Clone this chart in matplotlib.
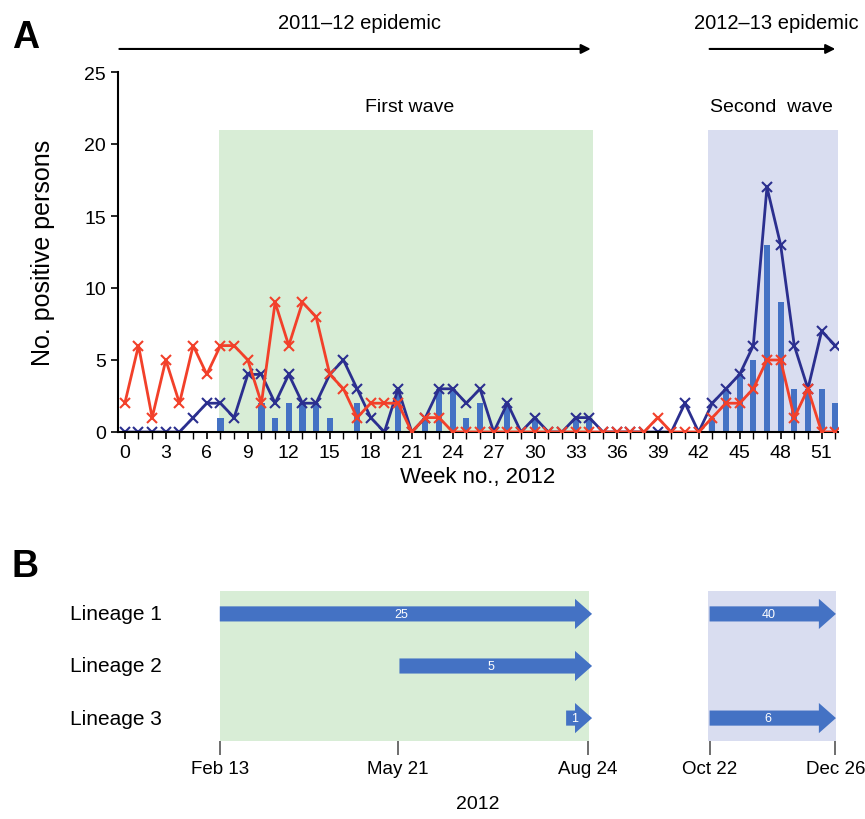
"""Weekly positive persons (panel A) and lineage timelines (panel B), 2012."""

import matplotlib

matplotlib.use("Agg")
import matplotlib.pyplot as plt
from matplotlib.patches import FancyArrow
import numpy as np

weeks = np.arange(0, 53)
total_pos = [0, 0, 0, 0, 0, 1, 2, 2, 1, 4, 4, 2, 4, 2, 2, 4, 5, 3, 1, 0,
             3, 0, 1, 3, 3, 2, 3, 0, 2, 0, 1, 0, 0, 1, 1, 0, 0, 0, 0, 0,
             0, 2, 0, 2, 3, 4, 6, 17, 13, 6, 3, 7, 6]
other_pos = [2, 6, 1, 5, 2, 6, 4, 6, 6, 5, 2, 9, 6, 9, 8, 4, 3, 1, 2, 2,
             2, 0, 1, 1, 0, 0, 0, 0, 0, 0, 0, 0, 0, 0, 0, 0, 0, 0, 0, 1,
             0, 0, 0, 1, 2, 2, 3, 5, 5, 1, 3, 0, 0]
sequenced = [0, 0, 0, 0, 0, 0, 0, 1, 0, 0, 2, 1, 2, 2, 2, 1, 0, 2, 0, 0,
             3, 0, 1, 3, 3, 1, 2, 0, 2, 0, 1, 0, 0, 1, 1, 0, 0, 0, 0, 0,
             0, 0, 0, 1, 3, 4, 5, 13, 9, 3, 3, 3, 2]

first_wave = (6.9, 34.3)
second_wave = (42.7, 52.2)
epidemic_1 = (-0.4, 34.1)
epidemic_2 = (42.8, 52.0)

# panel B: lineage arrows in week units (start, end, count)
lineages = ["Lineage 1", "Lineage 2", "Lineage 3"]
lineage_runs = [
    [(6.95, 34.2, 25), (42.8, 52.05, 40)],
    [(20.1, 34.2, 5)],
    [(32.3, 34.2, 1), (42.8, 52.05, 6)],
]
date_pos = [6.99, 20.0, 33.9, 42.8, 52.0]
date_labels = ["Feb 13", "May 21", "Aug 24", "Oct 22", "Dec 26"]
b_first = (6.95, 33.95)
b_second = (42.7, 52.05)

NAVY = "#2B2F8F"
RED = "#F2402A"
BAR = "#4472C4"
GREEN = "#D8EDD6"
LILAC = "#D9DDF0"

plt.rcParams["font.family"] = ["Liberation Sans", "DejaVu Sans"]

fig = plt.figure(figsize=(8.65, 8.2), dpi=100)
W, H = 865, 820
axA = fig.add_axes([118 / W, (H - 433) / H, 720 / W, 360 / H])
axB = fig.add_axes([118 / W, (H - 742) / H, 720 / W, 150 / H])
xlim = (-0.5, 52.2)

# ---- panel A
axA.fill_between(first_wave, 0, 21, color=GREEN, lw=0, zorder=0)
axA.fill_between(second_wave, 0, 21, color=LILAC, lw=0, zorder=0)
axA.bar(weeks, sequenced, width=0.45, color=BAR, zorder=1)
axA.plot(weeks, total_pos, color=NAVY, lw=2, marker="x", ms=6.5, mew=1.5, zorder=2)
axA.plot(weeks, other_pos, color=RED, lw=2, marker="x", ms=6.5, mew=1.5, zorder=3)

axA.set_xlim(*xlim)
axA.set_ylim(0, 25)
axA.set_yticks(range(0, 26, 5))
axA.set_xticks(range(0, 52, 3))
axA.set_xticks(weeks, minor=True)
axA.tick_params(axis="both", labelsize=14, width=1.2, length=5, direction="out")
axA.tick_params(axis="x", which="minor", length=5, width=1)
for side in ("top", "right"):
    axA.spines[side].set_visible(False)
for side in ("left", "bottom"):
    axA.spines[side].set_linewidth(1.5)
axA.set_xlabel("Week no., 2012", fontsize=16, labelpad=4)
axA.set_ylabel("No. positive persons", fontsize=18)
axA.yaxis.set_label_coords(-0.088, 0.5)

axA.text(20.85, 22.6, "First wave", fontsize=14, ha="center", va="center")
axA.text(47.3, 22.6, "Second  wave", fontsize=14, ha="center", va="center")

for (x0, x1), label in ((epidemic_1, "2011\u201312 epidemic"),
                        (epidemic_2, "2012\u201313 epidemic")):
    axA.annotate("", xy=(x1, 26.6), xytext=(x0, 26.6), annotation_clip=False,
                 arrowprops=dict(arrowstyle="-|>", lw=1.5, color="black",
                                 mutation_scale=14, shrinkA=0, shrinkB=0))
    axA.text((x0 + x1) / 2 + 0.3, 28.45, label, fontsize=14.5, ha="center",
             va="center", clip_on=False)

fig.text(12 / W, 1 - 38 / H, "A", fontsize=27, fontweight="bold", va="center")
fig.text(12 / W, 1 - 567 / H, "B", fontsize=27, fontweight="bold", va="center")

# ---- panel B
axB.set_xlim(*xlim)
axB.set_ylim(3.44, 0.56)
axB.fill_between(b_first, 0.56, 3.44, color=GREEN, lw=0, zorder=0)
axB.fill_between(b_second, 0.56, 3.44, color=LILAC, lw=0, zorder=0)
for row, (name, runs) in enumerate(zip(lineages, lineage_runs), start=1):
    axB.text(2.7, row, name, fontsize=15, ha="right", va="center")
    for x0, x1, n in runs:
        axB.add_patch(FancyArrow(x0, row, x1 - x0, 0, width=0.29, head_width=0.58,
                                 head_length=1.25, length_includes_head=True,
                                 color=BAR, lw=0, zorder=2))
        cx = x0 + (x1 - x0 - 1.25) / 2 + 0.3
        axB.text(cx, row, str(n), color="white", fontsize=9, ha="center",
                 va="center", zorder=3)

axB.set_yticks([])
axB.set_xticks(date_pos, date_labels)
axB.tick_params(axis="x", labelsize=13.5, length=10, width=1.2, color="#555555",
                pad=4)
for side in axB.spines:
    axB.spines[side].set_visible(False)
axB.set_xlabel("2012", fontsize=14, labelpad=13)

fig.savefig("out.png", dpi=100)
